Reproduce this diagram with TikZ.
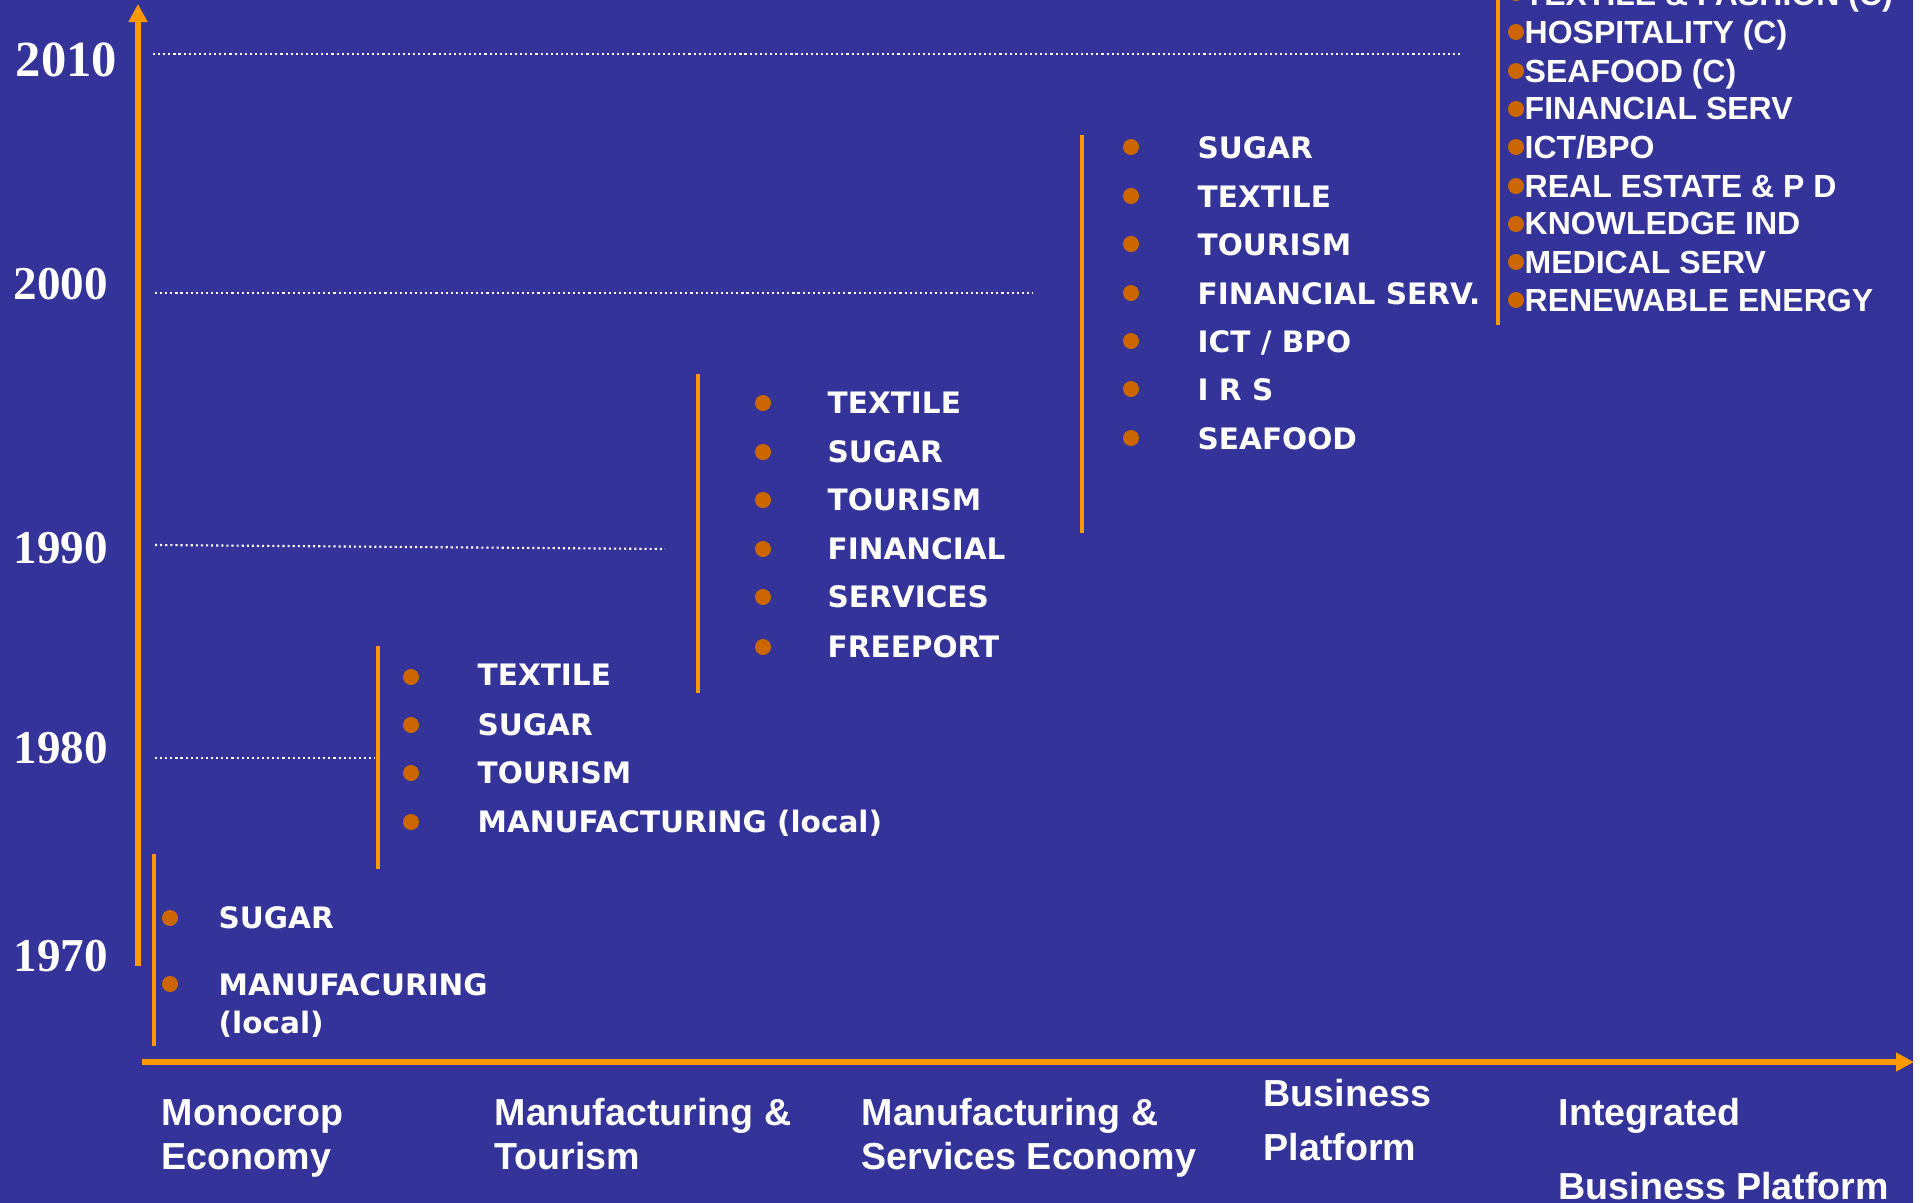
\documentclass[tikz,border=0pt]{standalone}
\usepackage{fontspec}
\usepackage{tikz}
\usetikzlibrary{arrows.meta}

\newfontfamily\yearfam{Liberation Serif}
\newfontfamily\itemfam{DejaVu Sans}
\newfontfamily\listfam{Liberation Sans}

\definecolor{bgblue}{RGB}{51,51,153}
\definecolor{lineorange}{RGB}{255,153,0}
\definecolor{dotorange}{RGB}{204,102,0}

\tikzset{
	year/.style={text=white, anchor=base west, inner sep=0pt, font=\yearfam\bfseries\fontsize{13.4}{15}\selectfont},
	item/.style={text=white, anchor=base west, inner sep=0pt, font=\itemfam\bfseries\fontsize{8.4}{10}\selectfont},
	newitem/.style={text=white, anchor=base west, inner sep=0pt, font=\listfam\bfseries\fontsize{9.1}{11}\selectfont},
	phase/.style={text=white, anchor=base west, inner sep=0pt, align=left, font=\listfam\bfseries\fontsize{10.7}{12.5}\selectfont},
	dot/.style={circle, fill=dotorange, inner sep=0pt, minimum size=0.16cm},
	axis/.style={draw=lineorange, line width=1.7pt, -{Triangle[length=0.18cm,width=0.18cm]}},
	bracket/.style={draw=lineorange, line width=1.4pt},
	yearline/.style={draw=white, line width=0.6pt, dash pattern=on 0.6pt off 0.85pt}
}

\begin{document}
\begin{tikzpicture}[x=0.01cm, y=-0.01cm]

	\useasboundingbox (0,0) rectangle (1923,1203);
	\fill[white] (0,0) rectangle (1923,1203);
	\fill[bgblue] (0,0) rectangle (1913,1203);

	% axes
	\coordinate (ybot) at (138, 966);
	\coordinate (ytop) at (138, 4);
	\coordinate (xleft) at (142, 1062);
	\coordinate (xright) at (1914, 1062);
	\draw[axis] (ybot) -- (ytop);
	\draw[axis] (xleft) -- (xright);

	% years
	\node[year, font=\yearfam\bfseries\fontsize{14.4}{16}\selectfont] (y2010) at (15, 76) {2010};
	\node[year] (y2000) at (13, 299) {2000};
	\node[year] (y1990) at (13, 563) {1990};
	\node[year] (y1980) at (13, 763) {1980};
	\node[year] (y1970) at (13, 971) {1970};

	\coordinate (l2010a) at (153, 54);
	\coordinate (l2010b) at (1462, 54);
	\coordinate (l2000a) at (155, 293);
	\coordinate (l2000b) at (1033, 293);
	\coordinate (l1990a) at (155, 545);
	\coordinate (l1990b) at (665, 549);
	\coordinate (l1980a) at (155, 758);
	\coordinate (l1980b) at (375, 758);
	\draw[yearline] (l2010a) -- (l2010b);
	\draw[yearline] (l2000a) -- (l2000b);
	\draw[yearline] (l1990a) -- (l1990b);
	\draw[yearline] (l1980a) -- (l1980b);

	% 1970
	\coordinate (b70a) at (154, 854);
	\coordinate (b70b) at (154, 1046);
	\draw[bracket] (b70a) -- (b70b);
	\node[dot] (d70a) at (170, 918) {};
	\node[dot] (d70b) at (170, 984) {};
	\node[item] (s70a) at (218, 928) {SUGAR};
	\node[item] (s70b) at (218, 995) {MANUFACURING};
	\node[item] (s70c) at (218, 1033) {(local)};

	% 1980
	\coordinate (b80a) at (378, 646);
	\coordinate (b80b) at (378, 869);
	\draw[bracket] (b80a) -- (b80b);
	\node[dot] (d80a) at (411, 677) {};
	\node[dot] (d80b) at (411, 725) {};
	\node[dot] (d80c) at (411, 773) {};
	\node[dot] (d80d) at (411, 822) {};
	\node[item] (s80a) at (477, 685) {TEXTILE};
	\node[item] (s80b) at (477, 735) {SUGAR};
	\node[item] (s80c) at (477, 783) {TOURISM};
	\node[item] (s80d) at (477, 832) {MANUFACTURING (local)};

	% 1990
	\coordinate (b90a) at (698, 374);
	\coordinate (b90b) at (698, 693);
	\draw[bracket] (b90a) -- (b90b);
	\node[dot] (d90a) at (763, 403) {};
	\node[dot] (d90b) at (763, 452) {};
	\node[dot] (d90c) at (763, 500) {};
	\node[dot] (d90d) at (763, 549) {};
	\node[dot] (d90e) at (763, 597) {};
	\node[dot] (d90f) at (763, 647) {};
	\node[item] (s90a) at (827, 413) {TEXTILE};
	\node[item] (s90b) at (827, 462) {SUGAR};
	\node[item] (s90c) at (827, 510) {TOURISM};
	\node[item] (s90d) at (827, 559) {FINANCIAL};
	\node[item] (s90e) at (827, 607) {SERVICES};
	\node[item] (s90f) at (827, 657) {FREEPORT};

	% 2000
	\coordinate (b00a) at (1082, 135);
	\coordinate (b00b) at (1082, 533);
	\draw[bracket] (b00a) -- (b00b);
	\node[dot] (d00a) at (1131, 147) {};
	\node[dot] (d00b) at (1131, 196) {};
	\node[dot] (d00c) at (1131, 244) {};
	\node[dot] (d00d) at (1131, 293) {};
	\node[dot] (d00e) at (1131, 341) {};
	\node[dot] (d00f) at (1131, 389) {};
	\node[dot] (d00g) at (1131, 438) {};
	\node[item] (s00a) at (1197, 158) {SUGAR};
	\node[item] (s00b) at (1197, 207) {TEXTILE};
	\node[item] (s00c) at (1197, 255) {TOURISM};
	\node[item] (s00d) at (1197, 304) {FINANCIAL SERV.};
	\node[item] (s00e) at (1197, 352) {ICT / BPO};
	\node[item] (s00f) at (1197, 400) {I R S};
	\node[item] (s00g) at (1197, 449) {SEAFOOD};

	% 2010
	\coordinate (b10a) at (1498, -5);
	\coordinate (b10b) at (1498, 325);
	\draw[bracket] (b10a) -- (b10b);
	\node[dot] (d10a) at (1516, -7) {};
	\node[dot] (d10b) at (1516, 32) {};
	\node[dot] (d10c) at (1516, 71) {};
	\node[dot] (d10d) at (1516, 109) {};
	\node[dot] (d10e) at (1516, 147) {};
	\node[dot] (d10f) at (1516, 186) {};
	\node[dot] (d10g) at (1516, 224) {};
	\node[dot] (d10h) at (1516, 262) {};
	\node[dot] (d10i) at (1516, 300) {};
	\node[newitem] (s10a) at (1524, 5) {TEXTILE \& FASHION (C)};
	\node[newitem] (s10b) at (1524, 43) {HOSPITALITY (C)};
	\node[newitem] (s10c) at (1524, 82) {SEAFOOD (C)};
	\node[newitem] (s10d) at (1524, 120) {FINANCIAL SERV};
	\node[newitem] (s10e) at (1524, 158) {ICT/BPO};
	\node[newitem] (s10f) at (1524, 197) {REAL ESTATE \& P D};
	\node[newitem] (s10g) at (1524, 235) {KNOWLEDGE IND};
	\node[newitem] (s10h) at (1524, 273) {MEDICAL SERV};
	\node[newitem] (s10i) at (1524, 311) {RENEWABLE ENERGY};

	% phases (base = last line)
	\node[phase] (p1) at (161, 1169) {Monocrop\\Economy};
	\node[phase] (p2) at (494, 1169) {Manufacturing \&\\Tourism};
	\node[phase] (p3) at (861, 1169) {Manufacturing \&\\Services Economy};
	\node[phase] (p4) at (1263, 1160) {Business\\[2.6pt]Platform};
	\node[phase] (p5) at (1558, 1199) {Integrated\\[8.5pt]Business Platform};

\end{tikzpicture}
\end{document}
